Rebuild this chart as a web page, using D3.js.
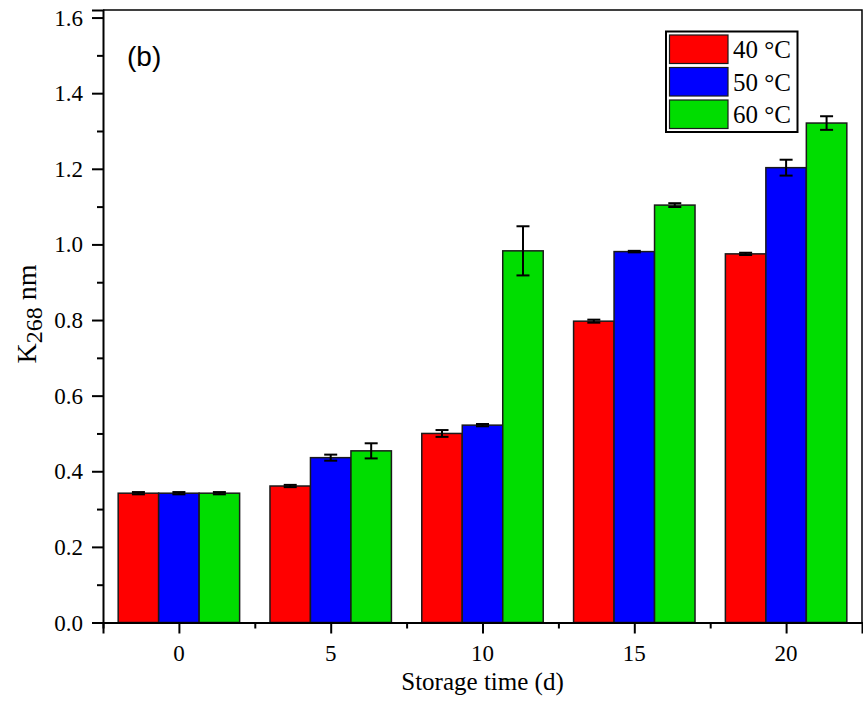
<!DOCTYPE html>
<html>
<head>
<meta charset="utf-8">
<script src="https://cdn.jsdelivr.net/npm/d3@7"></script>
<style>
  body { margin: 0; background: #fff; }
  svg { display: block; }
</style>
</head>
<body>
<div id="chart"><svg></svg></div>
<script>
(function() {

  var width = 863, height = 706;
  var serif = "Liberation Serif";

  // storage days and K268 values
  var days = [0, 5, 10, 15, 20];
  var k40 = [0.342, 0.361, 0.500, 0.797, 0.975];
  var k50 = [0.342, 0.436, 0.522, 0.981, 1.203];
  var k60 = [0.342, 0.454, 0.983, 1.104, 1.321];
  var err40 = [0.003, 0.003, 0.009, 0.004, 0.003];
  var err50 = [0.003, 0.008, 0.003, 0.002, 0.021];
  var err60 = [0.003, 0.020, 0.065, 0.005, 0.018];
  var seriesNames = ['40 °C', '50 °C', '60 °C'];
  var yTicks = [0, 0.2, 0.4, 0.6, 0.8, 1.0, 1.2, 1.4, 1.6];
  var yTickLabels = ['0.0', '0.2', '0.4', '0.6', '0.8', '1.0', '1.2', '1.4', '1.6'];
  var xTickLabels = ['0', '5', '10', '15', '20'];

  var series = [
    { name: seriesNames[0], values: k40, errs: err40 },
    { name: seriesNames[1], values: k50, errs: err50 },
    { name: seriesNames[2], values: k60, errs: err60 }
  ];

  var svg = d3.select("#chart").select("svg")
    .attr("width", width)
    .attr("height", height);

  var left = 103, right = 862, top = 10, bottom = 622.5;

  const xScale = d3.scaleLinear().domain([-2.5, 22.5]).range([left, right]);
  const yScale = d3.scaleLinear().domain([0, 1.62]).range([bottom, top]);
  const colorScale = d3.scaleOrdinal().domain(seriesNames).range(["#ff0000", "#0000ff", "#00dd00"]);

  var barW = 4 / 3; // in day units, 3 bars per group take 4 days

  // bars
  series.forEach(function(s, i) {
    var g = svg.append("g");
    var pts = days.map(function(d, j) {
      return { day: d, v: s.values[j], e: s.errs[j], name: s.name };
    });

    g.selectAll("rect")
      .data(pts)
      .enter().append("rect")
      .attr("x", (d) => xScale(d.day - 2 + i * barW))
      .attr("width", xScale(barW) - xScale(0))
      .attr("y", (d) => yScale(d.v))
      .attr("height", (d) => yScale(0) - yScale(d.v))
      .attr("fill", (d) => colorScale(d.name))
      .attr("stroke", "#1a1a1a")
      .attr("stroke-width", 1.5);

    // error bars
    var eb = g.selectAll(".err")
      .data(pts)
      .enter().append("g")
      .attr("class", "err")
      .attr("stroke", "#000")
      .attr("stroke-width", 2);

    var cx = (d) => xScale(d.day - 2 + (i + 0.5) * barW);
    eb.append("line")
      .attr("x1", cx).attr("x2", cx)
      .attr("y1", (d) => yScale(d.v + d.e))
      .attr("y2", (d) => yScale(d.v - d.e));
    eb.append("line")
      .attr("x1", (d) => cx(d) - 6.5).attr("x2", (d) => cx(d) + 6.5)
      .attr("y1", (d) => yScale(d.v + d.e))
      .attr("y2", (d) => yScale(d.v + d.e));
    eb.append("line")
      .attr("x1", (d) => cx(d) - 6.5).attr("x2", (d) => cx(d) + 6.5)
      .attr("y1", (d) => yScale(d.v - d.e))
      .attr("y2", (d) => yScale(d.v - d.e));
  });

  // frame top and right
  svg.append("path")
    .attr("d", "M" + left + "," + top + "H" + right + "V" + bottom)
    .attr("fill", "none")
    .attr("stroke", "#000")
    .attr("stroke-width", 1.5);

  // y axis
  svg.append("g")
    .attr("transform", "translate(" + left + ",0)")
    .call(d3.axisLeft(yScale).tickValues(yTicks).tickFormat("").tickSize(11));
  svg.append("g")
    .attr("transform", "translate(" + left + ",0)")
    .call(d3.axisLeft(yScale).tickValues(yTicks.slice(0, -1).map((d) => d + 0.1)).tickFormat("").tickSize(6))
    .select(".domain").remove();

  // x axis
  svg.append("g")
    .attr("transform", "translate(0," + bottom + ")")
    .call(d3.axisBottom(xScale).tickValues(days).tickFormat("").tickSize(11));
  svg.append("g")
    .attr("transform", "translate(0," + bottom + ")")
    .call(d3.axisBottom(xScale).tickValues([-2.5, 2.5, 7.5, 12.5, 17.5]).tickFormat("").tickSize(6))
    .select(".domain").remove();

  svg.selectAll(".domain").attr("stroke-width", 2).attr("stroke", "#000");
  svg.selectAll(".tick line").attr("stroke-width", 2).attr("stroke", "#000");

  // tick labels
  var ylg = svg.append("g")
    .attr("font-family", serif)
    .attr("font-size", 23)
    .attr("fill", "#000");
  ylg.selectAll("text")
    .data(yTicks)
    .enter().append("text")
    .attr("transform", (d) => "translate(" + (left - 20) + "," + (yScale(d) + 8) + ")")
    .attr("text-anchor", "end")
    .text((d, i) => yTickLabels[i]);

  var xlg = svg.append("g")
    .attr("font-family", serif)
    .attr("font-size", 23)
    .attr("fill", "#000");
  xlg.selectAll("text")
    .data(days)
    .enter().append("text")
    .attr("transform", (d) => "translate(" + xScale(d) + ",661)")
    .attr("text-anchor", "middle")
    .text((d, i) => xTickLabels[i]);

  // axis titles
  svg.append("text")
    .attr("x", (left + right) / 2)
    .attr("y", 690)
    .attr("text-anchor", "middle")
    .attr("font-family", serif)
    .attr("font-size", 25)
    .text("Storage time (d)");

  var yt = svg.append("text")
    .attr("transform", "translate(36,314) rotate(-90)")
    .attr("text-anchor", "middle")
    .attr("font-family", serif)
    .attr("font-size", 28);
  yt.append("tspan").text("K");
  yt.append("tspan").attr("dy", 6).attr("font-size", 24).text("268");
  yt.append("tspan").attr("dy", -6).text(" nm");

  // panel label
  svg.append("text")
    .attr("x", 127)
    .attr("y", 66)
    .attr("font-family", "Liberation Sans")
    .attr("font-size", 28)
    .text("(b)");

  // legend
  var legend = svg.append("g");
  legend.append("rect")
    .attr("x", 666).attr("y", 31.5)
    .attr("width", 131.5).attr("height", 100.5)
    .attr("fill", "#fff")
    .attr("stroke", "#000")
    .attr("stroke-width", 2);

  var items = legend.selectAll(".item")
    .data(seriesNames)
    .enter().append("g")
    .attr("class", "item")
    .attr("transform", (d, i) => "translate(0," + (i * 32.5) + ")");
  items.append("rect")
    .attr("x", 669.5).attr("y", 35)
    .attr("width", 58.5).attr("height", 28.5)
    .attr("fill", (d) => colorScale(d))
    .attr("stroke", "#1a1a1a")
    .attr("stroke-width", 1.2);
  items.append("text")
    .attr("x", 733).attr("y", 58)
    .attr("font-family", serif)
    .attr("font-size", 25)
    .text((d) => d);

})()
</script>
</body>
</html>
